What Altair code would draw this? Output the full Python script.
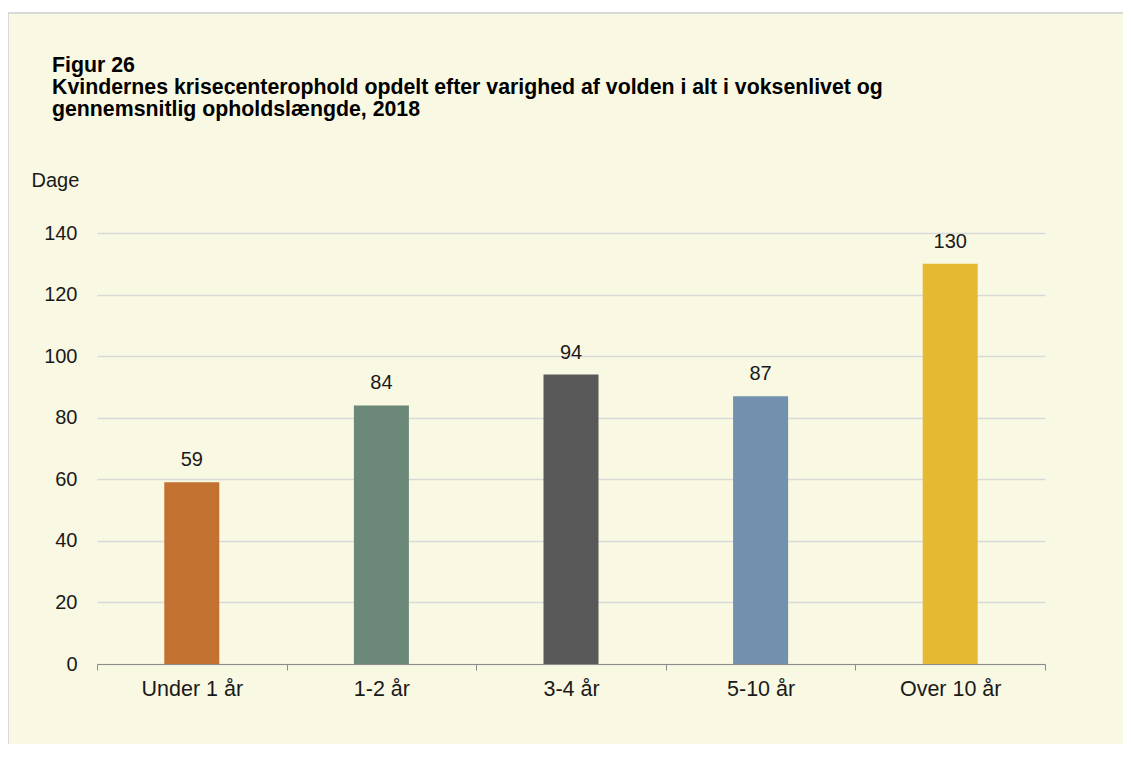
import altair as alt
import pandas as pd

categories = ["Under 1 år", "1-2 år", "3-4 år", "5-10 år", "Over 10 år"]
values = [59, 84, 94, 87, 130]
colors = ["#C27130", "#6B8878", "#595959", "#7191AF", "#E3BA32"]
y_ticks = [0, 20, 40, 60, 80, 100, 120, 140]

title_lines = [
    "Figur 26",
    "Kvindernes krisecenterophold opdelt efter varighed af volden i alt i voksenlivet og",
    "gennemsnitlig opholdslængde, 2018",
]

df = pd.DataFrame({"kategori": categories, "dage": values})

FONT = "Liberation Sans"
TXT = "#1a1a1a"

x_enc = alt.X(
    "kategori:N",
    sort=categories,
    scale=alt.Scale(paddingInner=0, paddingOuter=0),
    axis=alt.Axis(
        title=None,
        labelAngle=0,
        labelFontSize=21.5,
        labelColor=TXT,
        labelFont=FONT,
        labelPadding=8,
        domainColor="#8C8C8C",
        tickColor="#8C8C8C",
        tickSize=6,
        tickBand="extent",
        grid=False,
    ),
)
y_enc = alt.Y(
    "dage:Q",
    scale=alt.Scale(domain=[0, 140], nice=False),
    axis=alt.Axis(
        title="Dage",
        titleAngle=0,
        titleAlign="left",
        titleBaseline="alphabetic",
        titleX=-66,
        titleY=-47,
        titleFontSize=20,
        titleFontWeight="normal",
        titleColor=TXT,
        titleFont=FONT,
        values=y_ticks,
        labelFontSize=20,
        labelColor=TXT,
        labelFont=FONT,
        labelPadding=20,
        domain=False,
        ticks=False,
        grid=True,
        gridColor="#D9D9D9",
        gridWidth=1.5,
    ),
)

deco = pd.DataFrame({"f": [1]})
top_strip = alt.Chart(deco).mark_rect(fill="white").encode(
    x=alt.value(-89), x2=alt.value(1030), y=alt.value(-226), y2=alt.value(-221)
)
frame = alt.Chart(deco).mark_rect(
    fillOpacity=0, stroke="#D9D9D9", strokeWidth=2
).encode(
    x=alt.value(-89), x2=alt.value(1040), y=alt.value(-220), y2=alt.value(520)
)

bars = alt.Chart(df).mark_bar(width=55).encode(
    x=x_enc,
    y=y_enc,
    color=alt.Color("kategori:N", sort=categories,
                    scale=alt.Scale(domain=categories, range=colors), legend=None),
)

labels = alt.Chart(df).mark_text(
    baseline="alphabetic", dy=-16, fontSize=20, font=FONT, color=TXT
).encode(
    x=alt.X("kategori:N", sort=categories),
    y=alt.Y("dage:Q"),
    text=alt.Text("dage:Q"),
)

chart = alt.layer(top_strip, frame, bars, labels).properties(
    width=948,
    height=431,
    autosize=alt.AutoSizeParams(type="none"),
    padding={"left": 89, "top": 225, "right": 78, "bottom": 80},
    background="#F9F8E2",
    title=alt.TitleParams(
        text=title_lines,
        anchor="start",
        frame="group",
        dx=-45,
        offset=-113,
        fontSize=21.3,
        fontWeight="bold",
        font=FONT,
        color="#000000",
        lineHeight=22,
        baseline="top",
    ),
).configure_view(stroke=None)

chart.save("out.html", embed_options={"renderer": "svg", "actions": False})
